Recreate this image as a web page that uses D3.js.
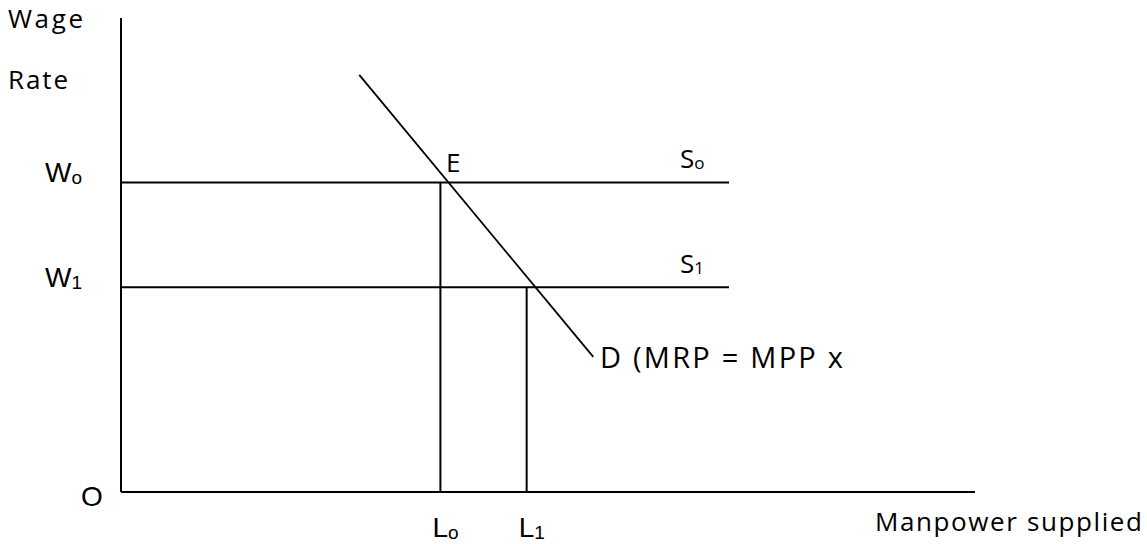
<!DOCTYPE html>
<html>
<head>
<meta charset="utf-8">
<script src="https://cdn.jsdelivr.net/npm/d3@7"></script>
<style>
    body { margin: 0; background: #fff; }
    .sans { font-family: "Open Sans", sans-serif; }
    .arial { font-family: "Liberation Sans", Arial, sans-serif; }
</style>
</head>
<body>
<div id="chart"></div>
<script>
const width = 1147;
const height = 544;

// diagram values in abstract units (0-100 on both axes)
const wageLevels = [
    { name: "W", sub: "o", s: "o", value: 65.3 },
    { name: "W", sub: "1", s: "1", value: 43.2 },
];
const labourLevels = [
    { name: "L", sub: "o", value: 37.4, wage: 65.3 },
    { name: "L", sub: "1", value: 47.5, wage: 43.2 },
];
const supplyEnd = 71.2;
const demand = [
    [27.9, 88.0],
    [55.3, 28.5],
];

const x = d3.scaleLinear().domain([0, 100]).range([121, 975]);
const y = d3.scaleLinear().domain([0, 100]).range([492, 18]);

const svg = d3
    .select("#chart")
    .append("svg")
    .attr("width", width)
    .attr("height", height);

const lines = svg
    .append("g")
    .attr("stroke", "#000")
    .attr("stroke-width", 2)
    .attr("fill", "none");

// axes
lines.append("line")
    .attr("x1", x(0)).attr("y1", y(0))
    .attr("x2", x(0)).attr("y2", y(100));
lines.append("line")
    .attr("x1", x(0)).attr("y1", y(0))
    .attr("x2", x(100)).attr("y2", y(0));

// supply lines
lines.selectAll(".supply")
    .data(wageLevels)
    .enter()
    .append("line")
    .attr("class", "supply")
    .attr("x1", x(0))
    .attr("x2", x(supplyEnd))
    .attr("y1", (d) => y(d.value))
    .attr("y2", (d) => y(d.value));

// drop lines to quantity axis
lines.selectAll(".drop")
    .data(labourLevels)
    .enter()
    .append("line")
    .attr("class", "drop")
    .attr("x1", (d) => x(d.value))
    .attr("x2", (d) => x(d.value))
    .attr("y1", (d) => y(d.wage))
    .attr("y2", y(0));

// demand curve
lines.append("path")
    .attr("stroke-width", 1.8)
    .attr("d", d3.line().x((d) => x(d[0])).y((d) => y(d[1]))(demand));

// axis titles
svg.append("text")
    .attr("class", "sans")
    .attr("x", 8).attr("y", 28)
    .attr("font-size", 26)
    .attr("textLength", 75)
    .text("Wage");
svg.append("text")
    .attr("class", "sans")
    .attr("x", 8).attr("y", 89)
    .attr("font-size", 26)
    .attr("textLength", 60)
    .text("Rate");
svg.append("text")
    .attr("class", "sans")
    .attr("x", 875).attr("y", 531)
    .attr("font-size", 26)
    .attr("textLength", 267)
    .text("Manpower supplied");

svg.append("text")
    .attr("class", "arial")
    .attr("x", 81).attr("y", 506)
    .attr("font-size", 28)
    .text("O");

// wage labels
const wLabels = svg
    .selectAll(".wlab")
    .data(wageLevels)
    .enter()
    .append("text")
    .attr("class", "arial wlab")
    .attr("x", 45)
    .attr("y", (d) => y(d.value))
    .attr("font-size", 28);
wLabels.append("tspan").text((d) => d.name);
wLabels.append("tspan")
    .attr("font-size", 19)
    .attr("dy", 2)
    .text((d) => d.sub);

// labour labels
const lLabels = svg
    .selectAll(".llab")
    .data(labourLevels)
    .enter()
    .append("text")
    .attr("class", "arial llab")
    .attr("x", (d) => x(d.value) - 8)
    .attr("y", 537)
    .attr("font-size", 28);
lLabels.append("tspan").text((d) => d.name);
lLabels.append("tspan")
    .attr("font-size", 19)
    .attr("dy", 2)
    .text((d) => d.sub);

// supply labels
const sLabels = svg
    .selectAll(".slab")
    .data(wageLevels)
    .enter()
    .append("text")
    .attr("class", "sans slab")
    .attr("x", 680)
    .attr("y", (d) => y(d.value) - 14)
    .attr("font-size", 26);
sLabels.append("tspan").text("S");
sLabels.append("tspan")
    .attr("font-size", 17)
    .attr("dy", 1)
    .text((d) => d.s);

svg.append("text")
    .attr("class", "sans")
    .attr("x", 446).attr("y", 172)
    .attr("font-size", 26)
    .text("E");

svg.append("text")
    .attr("class", "sans")
    .attr("x", 600).attr("y", 368)
    .attr("font-size", 29)
    .attr("textLength", 243)
    .attr("lengthAdjust", "spacing")
    .text("D (MRP = MPP x");
</script>
</body>
</html>
